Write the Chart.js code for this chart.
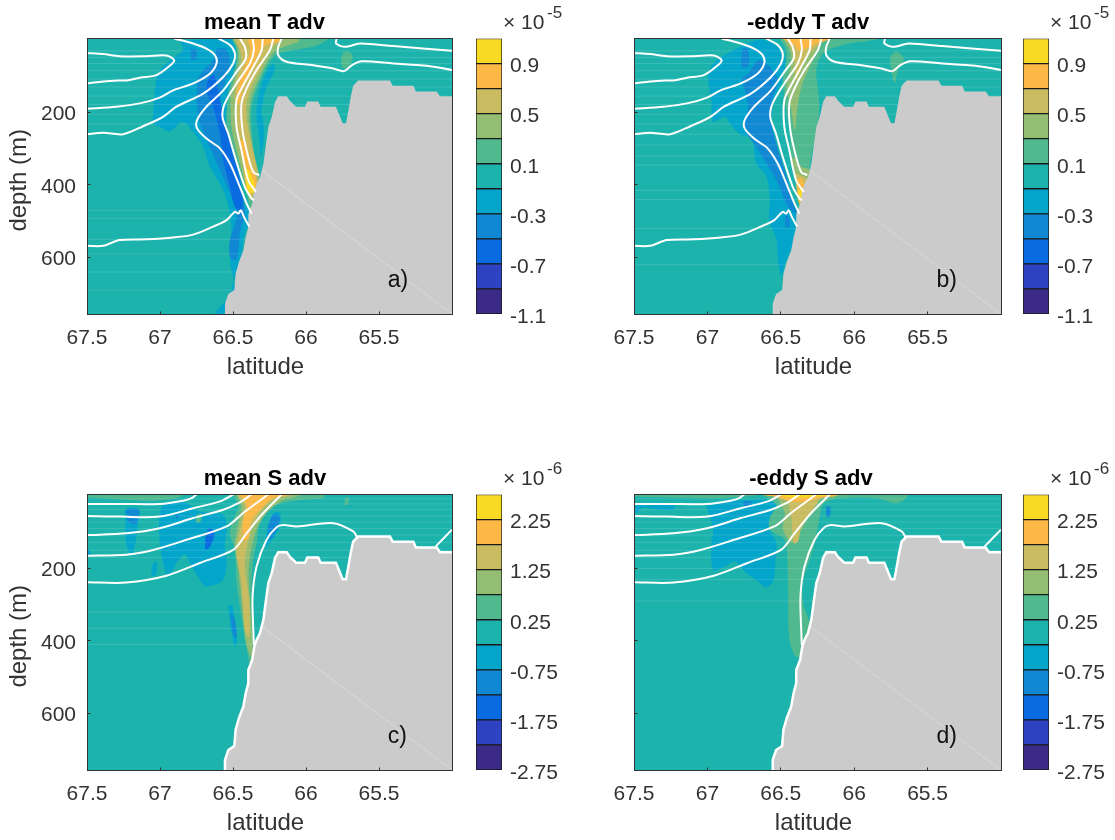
<!DOCTYPE html>
<html>
<head>
<meta charset="utf-8">
<style>
html, body { margin: 0; padding: 0; background: #fff; overflow: hidden; }
canvas { position: absolute; }
</style>
<script src="https://cdn.jsdelivr.net/npm/chart.js@4/dist/chart.umd.min.js"></script>
</head>
<body>
<script>
const latTicks = [67.5, 67, 66.5, 66, 65.5];
const depthTicks = [200, 400, 600];
const tLevels = [-1.1, -0.9, -0.7, -0.5, -0.3, -0.1, 0.1, 0.3, 0.5, 0.7, 0.9, 1.1];
const sLevels = [-2.75, -2.25, -1.75, -1.25, -0.75, -0.25, 0.25, 0.75, 1.25, 1.75, 2.25, 2.75];
const tTicks = [-1.1, -0.7, -0.3, 0.1, 0.5, 0.9];
const sTicks = [-2.75, -1.75, -0.75, 0.25, 1.25, 2.25];
const levelColors = ['#3b2a86', '#2e43c1', '#0a6ae0', '#1188d2', '#04a5ca', '#1db3ad', '#50b98e', '#92bd72', '#c8bb60', '#fbb845', '#f8d923'];

// sea floor, lat / depth
const terrain = [[66.555,760],[66.555,728],[66.532,701],[66.491,690],[66.482,645],[66.459,612],[66.429,581],[66.413,544],[66.395,516],[66.395,480],[66.368,452],[66.354,416],[66.338,397],[66.315,378],[66.292,342],[66.274,287],[66.258,240],[66.235,213],[66.212,171],[66.19,155],[66.132,155],[66.11,168],[66.068,184],[66.007,184],[65.991,170],[65.916,170],[65.9,184],[65.795,184],[65.749,230],[65.726,230],[65.71,195],[65.694,158],[65.677,126],[65.643,112],[65.425,112],[65.406,126],[65.265,126],[65.247,142],[65.105,142],[65.082,155],[65.0,155]];
const floorSeam = [[66.304,359],[65.0,756]];

// white contours
const tContours = [
  [[67.5,36],[67.39,39],[67.276,45],[67.093,45],[66.956,43],[66.903,56],[66.933,71],[67.024,97],[67.139,104],[67.219,111],[67.345,113],[67.5,120]],
  [[66.903,-4],[66.773,10],[66.682,24],[66.624,42],[66.613,65],[66.659,93],[66.773,120],[66.91,139],[67.002,159],[67.139,175],[67.299,184],[67.5,190]],
  [[66.601,-4],[66.521,14],[66.487,37],[66.499,65],[66.567,102],[66.704,148],[66.887,184],[66.979,212],[67.116,238],[67.253,260],[67.39,256],[67.5,260]],
  [[66.453,-4],[66.419,19],[66.412,51],[66.476,88],[66.567,139],[66.682,184],[66.746,221],[66.746,244],[66.682,272],[66.59,299],[66.521,341],[66.453,405],[66.407,451],[66.373,479]],
  [[66.366,-4],[66.357,28],[66.384,65],[66.476,120],[66.556,175],[66.572,212],[66.533,258],[66.487,322],[66.419,405],[66.373,437],[66.357,442]],
  [[66.297,-4],[66.304,28],[66.361,74],[66.43,125],[66.476,166],[66.476,240],[66.442,304],[66.396,387],[66.343,419]],
  [[66.224,-4],[66.247,28],[66.339,83],[66.407,134],[66.442,175],[66.435,249],[66.396,322],[66.361,364],[66.32,373]],
  [[67.5,568],[67.39,568],[67.276,552],[67.093,550],[66.91,545],[66.773,537],[66.636,515],[66.544,497],[66.487,474],[66.464,479],[66.446,470],[66.425,488],[66.389,515]],
  [[65.79,-4],[65.794,10],[65.733,19],[65.63,10],[65.401,17],[65.0,30]],
  [[66.167,-4],[66.19,19],[66.19,42],[66.133,60],[65.95,70],[65.813,79],[65.74,86],[65.687,70],[65.618,59],[65.401,65],[65.173,71],[65.0,83]]
];
const sContours = [
  [[67.5,22],[67.276,22],[67.002,22],[66.842,13],[66.784,6],[66.75,-4]],
  [[67.5,55],[67.276,57],[67.002,57],[66.773,34],[66.59,15],[66.499,-4]],
  [[67.5,108],[67.23,103],[67.002,89],[66.773,61],[66.567,38],[66.464,20],[66.373,-4]],
  [[67.5,165],[67.23,162],[67.047,149],[66.819,121],[66.544,84],[66.43,47],[66.259,-4]],
  [[67.5,238],[67.23,239],[66.956,220],[66.727,185],[66.499,149],[66.407,103],[66.293,47],[66.167,-4]],
  [[66.357,411],[66.361,369],[66.366,277],[66.339,195],[66.27,121],[66.201,86],[66.156,80],[66.064,84],[65.813,75],[65.676,98],[65.648,116]],
  [[65.111,139],[65.0,93]]
];

// filled bands: [level index, outline]
const bandsA = [
  [4, [[66.864,1],[66.842,28],[66.933,56],[67.013,93],[67.036,148],[67.047,203],[67.047,230],[66.979,244],[66.933,253],[66.842,226],[66.773,254],[66.704,295],[66.659,350],[66.567,414],[66.521,479],[66.51,534],[66.521,607],[66.487,681],[66.487,699],[66.567,727],[66.624,756],[66.563,756],[66.494,663],[66.441,589],[66.419,534],[66.373,488],[66.442,442],[66.476,387],[66.51,322],[66.556,258],[66.544,194],[66.533,148],[66.499,102],[66.476,47],[66.51,-4]]],
  [4, [[66.224,65],[66.27,88],[66.327,157],[66.339,212],[66.316,286],[66.309,322],[66.293,286],[66.288,240],[66.304,194],[66.27,129],[66.213,83]]],
  [3, [[66.613,24],[66.549,24],[66.521,65],[66.556,120],[66.59,166],[66.567,230],[66.521,295],[66.464,359],[66.43,433],[66.419,479],[66.453,534],[66.476,607],[66.521,598],[66.521,552],[66.476,488],[66.51,433],[66.59,359],[66.659,295],[66.727,230],[66.75,157],[66.727,97],[66.636,56]]],
  [3, [[66.789,26],[66.755,26],[66.75,51],[66.784,56]]],
  [2, [[66.67,106],[66.631,97],[66.601,139],[66.567,208],[66.521,276],[66.476,350],[66.435,433],[66.442,470],[66.487,460],[66.521,405],[66.567,332],[66.59,258],[66.636,184],[66.682,139]]],
  [6, [[66.51,-4],[66.476,28],[66.48,65],[66.51,111],[66.533,148],[66.544,203],[66.533,258],[66.487,322],[66.442,377],[66.396,442],[66.373,488],[66.32,377],[66.35,322],[66.366,276],[66.373,240],[66.373,184],[66.339,139],[66.281,83],[66.224,47],[66.179,37],[66.087,28],[65.95,19],[65.858,1],[65.858,-4]]],
  [6, [[65.744,33],[65.699,33],[65.68,51],[65.71,74],[65.744,79],[65.76,56]]],
  [7, [[66.499,-4],[66.464,28],[66.464,65],[66.499,120],[66.517,166],[66.51,240],[66.476,304],[66.43,377],[66.384,442],[66.35,433],[66.32,377],[66.35,332],[66.373,276],[66.391,212],[66.373,157],[66.316,102],[66.259,56],[66.201,28],[66.053,5],[66.053,-4]]],
  [8, [[66.487,-4],[66.453,28],[66.442,60],[66.476,111],[66.487,166],[66.476,240],[66.453,304],[66.407,387],[66.373,433],[66.339,410],[66.339,350],[66.368,295],[66.402,230],[66.407,175],[66.373,129],[66.304,74],[66.247,28],[66.167,-4]]],
  [9, [[66.396,5],[66.38,28],[66.419,74],[66.464,129],[66.476,175],[66.458,177],[66.43,131],[66.361,70],[66.293,19],[66.167,1],[66.167,-4],[66.384,-4]]],
  [9, [[66.458,276],[66.43,341],[66.396,424],[66.35,415],[66.339,387],[66.38,341],[66.419,276]]],
  [10, [[66.419,368],[66.396,419],[66.361,422],[66.35,401],[66.38,368],[66.402,355]]]
];
const bandsB = [
  [4, [[66.757,14],[66.882,42],[66.961,65],[66.995,102],[66.973,166],[66.961,226],[66.882,212],[66.848,230],[66.768,263],[66.7,267],[66.666,341],[66.598,377],[66.575,442],[66.58,497],[66.53,552],[66.519,607],[66.496,653],[66.473,621],[66.394,534],[66.376,488],[66.439,460],[66.485,387],[66.53,322],[66.564,249],[66.553,175],[66.485,102],[66.473,47],[66.553,10],[66.644,-1]]],
  [3, [[66.768,106],[66.723,93],[66.655,56],[66.598,65],[66.519,111],[66.553,157],[66.569,212],[66.53,286],[66.473,359],[66.416,442],[66.394,479],[66.451,460],[66.53,387],[66.598,341],[66.666,295],[66.746,244],[66.723,184]]],
  [3, [[66.762,24],[66.723,24],[66.723,74],[66.768,74]]],
  [3, [[66.473,488],[66.451,483],[66.439,515],[66.466,517]]],
  [6, [[66.507,-4],[66.462,28],[66.462,65],[66.485,102],[66.473,166],[66.439,258],[66.428,332],[66.405,377],[66.371,451],[66.353,479],[66.308,359],[66.28,295],[66.246,240],[66.24,166],[66.258,83],[66.212,37],[66.076,14],[65.849,-1],[65.849,-4]]],
  [6, [[65.713,30],[65.661,51],[65.702,83],[65.724,120],[65.747,83],[65.754,47]]],
  [7, [[66.485,-4],[66.439,28],[66.428,65],[66.462,129],[66.428,194],[66.405,249],[66.389,194],[66.36,129],[66.292,65],[66.224,10],[66.167,-4]]],
  [7, [[66.428,327],[66.394,387],[66.371,460],[66.337,415],[66.303,359],[66.36,350],[66.394,327]]],
  [8, [[66.462,-4],[66.421,33],[66.405,65],[66.394,111],[66.326,47],[66.28,28],[66.212,-4]]],
  [8, [[66.405,368],[66.376,451],[66.344,410],[66.326,382],[66.371,373]]],
  [9, [[66.496,-4],[66.405,14],[66.382,28],[66.326,24],[66.258,10],[66.167,-2],[66.167,-4]]],
  [9, [[66.394,387],[66.371,451],[66.337,410],[66.36,382]]],
  [10, [[66.382,419],[66.366,442],[66.348,415],[66.36,407]]]
];
const bandsC = [
  [4, [[67.242,38],[67.196,31],[67.139,38],[67.15,75],[67.173,139],[67.196,162],[67.23,135],[67.237,84]]],
  [4, [[67.006,57],[66.979,25],[66.842,15],[66.727,43],[66.567,52],[66.544,84],[66.556,139],[66.544,176],[66.567,231],[66.682,250],[66.727,231],[66.796,185],[66.83,160],[66.887,185],[66.944,222],[66.979,185],[67.006,112]]],
  [4, [[67.5,141],[67.47,162],[67.5,167]]],
  [4, [[67.047,185],[67.02,181],[67.029,218],[67.059,218]]],
  [4, [[66.533,300],[66.503,305],[66.471,397],[66.487,415],[66.517,360]]],
  [4, [[66.27,93],[66.224,47],[66.179,47],[66.179,84],[66.247,130],[66.277,139]]],
  [3, [[67.235,38],[67.146,38],[67.166,77],[67.219,70]]],
  [3, [[66.693,103],[66.659,86],[66.624,103],[66.647,135],[66.682,149]]],
  [3, [[66.259,82],[66.224,52],[66.183,57],[66.19,82],[66.247,121]]],
  [3, [[66.517,323],[66.487,342],[66.476,392],[66.499,383]]],
  [3, [[66.899,52],[66.876,52],[66.883,64]]],
  [2, [[66.688,114],[66.654,91],[66.629,103],[66.659,139],[66.688,147]]],
  [6, [[66.499,-4],[66.464,29],[66.499,66],[66.521,103],[66.487,149],[66.476,241],[66.442,333],[66.396,443],[66.38,489],[66.366,443],[66.35,415],[66.361,333],[66.373,259],[66.361,176],[66.339,130],[66.316,75],[66.224,29],[66.041,11],[65.881,6],[65.87,-4]]],
  [6, [[67.5,-4],[67.5,3],[67.276,9],[67.07,13],[66.887,6],[66.842,-4]]],
  [6, [[65.733,6],[65.703,4],[65.717,25],[65.733,25]]],
  [6, [[66.75,52],[66.711,49],[66.727,73],[66.755,70]]],
  [7, [[66.476,-4],[66.442,29],[66.464,75],[66.487,139],[66.464,204],[66.435,314],[66.412,406],[66.373,443],[66.366,415],[66.38,314],[66.393,222],[66.38,158],[66.339,93],[66.27,47],[66.156,11],[66.064,2],[66.041,-4]]],
  [8, [[66.476,-4],[66.419,29],[66.442,75],[66.476,149],[66.442,241],[66.419,369],[66.389,392],[66.389,287],[66.419,185],[66.373,93],[66.316,47],[66.224,11],[66.087,-4]]],
  [9, [[66.453,-4],[66.407,25],[66.43,66],[66.425,121],[66.396,116],[66.373,66],[66.293,29],[66.224,6],[66.11,-4]]]
];
const bandsD = [
  [4, [[67.007,25],[66.87,15],[66.689,11],[66.587,11],[66.53,25],[66.575,61],[66.575,93],[66.53,130],[66.537,185],[66.553,236],[66.598,252],[66.655,236],[66.734,213],[66.814,181],[66.882,195],[66.961,204],[66.973,130],[66.961,93]]],
  [4, [[67.5,23],[67.222,25],[67.234,38],[67.37,36],[67.439,33],[67.496,50],[67.5,50]]],
  [3, [[66.757,15],[66.7,15],[66.712,29],[66.746,29]]],
  [3, [[66.19,29],[66.162,31],[66.167,57],[66.19,55]]],
  [6, [[66.632,-4],[66.53,25],[66.575,61],[66.575,93],[66.473,121],[66.451,241],[66.444,388],[66.405,441],[66.366,443],[66.344,415],[66.303,351],[66.344,305],[66.353,241],[66.303,176],[66.269,130],[66.239,66],[66.208,20],[66.076,6],[65.849,6],[65.713,20],[65.645,6],[65.633,-4]]],
  [6, [[67.5,-4],[67.5,1],[66.984,6],[66.757,2],[66.632,-4]]],
  [7, [[66.598,-4],[66.53,4],[66.473,48],[66.485,93],[66.416,130],[66.36,93],[66.28,38],[66.212,6],[66.031,-4]]],
  [8, [[66.451,11],[66.428,61],[66.412,130],[66.382,125],[66.36,84],[66.303,47],[66.246,11]]],
  [9, [[66.644,-4],[66.53,3],[66.439,15],[66.326,15],[66.235,6],[66.121,0],[66.121,-4]]],
  [10, [[66.553,-4],[66.439,4],[66.326,4],[66.212,0],[66.144,-4]]]
];

// faint horizontal grid seams in the fill
const seamsA = [30,48,65,85,108,130,155,178,205,232,470,492,550,590,640,690];
const seamsB = [30,48,65,85,108,130,155,178,205,232,260,290,320,345,415,440,520,620];
const seamsC = [8,22,38,55,72,90,108,128,150,170,320,365,410];
const seamsD = [8,22,38,55,72,90,108,128,150,170,200,230,290];

const fontName = '"Liberation Sans", Arial, sans-serif';
const textGray = '#333333';

function pts(list) {
  return list.map(p => ({x: p[0], y: p[1]}));
}

function polygon(list, color, tension) {
  return {data: pts(list.concat([list[0]])), showLine: true, fill: 'shape', backgroundColor: color,
    borderWidth: 0, pointRadius: 0, tension: tension};
}

function whiteLine(list, width, tension) {
  return {data: pts(list), showLine: true, fill: false, borderColor: '#ffffff', borderWidth: width,
    pointRadius: 0, tension: tension};
}

const frame = {
  id: 'frame',
  afterDraw(chart) {
    const ctx = chart.ctx, a = chart.chartArea;
    const l = Math.floor(a.left) + 0.5, r = Math.floor(a.right) + 0.5;
    const t = Math.floor(a.top) + 0.5, b = Math.floor(a.bottom) + 0.5;
    ctx.save();
    ctx.strokeStyle = '#333333';
    ctx.lineWidth = 1;
    ctx.strokeRect(l, t, r - l, b - t);
    ctx.beginPath();
    chart.scales.x.ticks.forEach(tk => {
      const x = Math.floor(chart.scales.x.getPixelForValue(tk.value)) + 0.5;
      ctx.moveTo(x, b); ctx.lineTo(x, b - 3);
    });
    chart.scales.y.ticks.forEach(tk => {
      const y = Math.floor(chart.scales.y.getPixelForValue(tk.value)) + 0.5;
      ctx.moveTo(l, y); ctx.lineTo(l + 3, y);
    });
    ctx.stroke();
    ctx.restore();
  }
};

function makePanel(cfg) {
  const cv = document.createElement('canvas');
  cv.width = cfg.width; cv.height = 400;
  cv.style.left = cfg.left + 'px'; cv.style.top = cfg.top + 'px';
  document.body.appendChild(cv);

  const ds = [];
  ds.push(polygon([[67.5,-4],[65,-4],[65,756],[67.5,756]], levelColors[5], 0));
  cfg.bands.forEach(b => ds.push(polygon(b[1], levelColors[b[0]], 0.3)));
  cfg.seams.forEach(d => ds.push({data: pts([[67.5,d],[65,d]]), showLine: true, fill: false,
    borderColor: 'rgba(255,255,255,0.13)', borderWidth: 1, pointRadius: 0}));
  ds.push(polygon(terrain.concat([[65,760]]), '#cbcbcb', 0));
  ds.push({data: pts(floorSeam), showLine: true, fill: false, borderColor: 'rgba(255,255,255,0.3)',
    borderWidth: 1, pointRadius: 0});
  cfg.contours.forEach(c => ds.push(whiteLine(c, 2, 0.3)));
  if (cfg.floorLine) ds.push(whiteLine(terrain, 2.5, 0));
  ds.forEach((d, i) => { d.order = -i; });

  const labels = {
    id: 'labels',
    afterLayout(chart) {
      chart.titleBlock.left = cfg.titleAt - 150;
      chart.titleBlock.right = cfg.titleAt + 150;
    },
    afterDraw(chart) {
      const ctx = chart.ctx, a = chart.chartArea;
      ctx.save();
      ctx.textBaseline = 'middle';
      ctx.fillStyle = '#111111';
      ctx.font = '23px ' + fontName;
      ctx.fillText(cfg.tag, chart.scales.x.getPixelForValue(65.44), chart.scales.y.getPixelForValue(663));
      ctx.fillStyle = textGray;
      ctx.font = '24px ' + fontName;
      ctx.textAlign = 'center';
      ctx.fillText('latitude', (a.left + a.right) / 2 - 4, 367);
      if (cfg.yLabels) {
        ctx.translate(19, (a.top + a.bottom) / 2 + 4);
        ctx.rotate(-Math.PI / 2);
        ctx.fillText('depth (m)', 0, 0);
      }
      ctx.restore();
    }
  };

  new Chart(cv, {
    type: 'scatter',
    data: {datasets: ds},
    plugins: [frame, labels],
    options: {
      responsive: false,
      animation: false,
      layout: {padding: {right: cfg.width - 87 - cfg.plotW}},
      plugins: {
        legend: {display: false},
        tooltip: {enabled: false},
        title: {display: true, text: cfg.title, color: '#000000',
          font: {family: fontName, size: 22, weight: 'bold', lineHeight: 1},
          padding: {top: 12, bottom: 4.5}}
      },
      scales: {
        x: {
          type: 'linear', reverse: true, min: 65, max: 67.5,
          grid: {display: false, drawTicks: false}, border: {display: false},
          afterBuildTicks(s) { s.ticks = latTicks.map(v => ({value: v})); },
          afterFit(s) { s.height = 86; },
          ticks: {color: textGray, padding: 12, maxRotation: 0, autoSkip: false,
            font: {family: fontName, size: 21}, callback: v => String(v)}
        },
        y: {
          type: 'linear', reverse: true, min: -4, max: 756,
          grid: {display: false, drawTicks: false}, border: {display: false},
          afterBuildTicks(s) { s.ticks = depthTicks.map(v => ({value: v})); },
          afterFit(s) { s.width = 87; },
          ticks: {display: cfg.yLabels, color: textGray, padding: 11, autoSkip: false, labelOffset: 2,
            font: {family: fontName, size: 21}, callback: v => String(v)}
        }
      }
    }
  });
}

function makeColorbar(cfg) {
  const cv = document.createElement('canvas');
  cv.width = cfg.width; cv.height = 400;
  cv.style.left = cfg.left + 'px'; cv.style.top = cfg.top + 'px';
  document.body.appendChild(cv);

  const ds = levelColors.map((c, i) => ({
    data: [[cfg.levels[i], cfg.levels[i + 1]]],
    backgroundColor: c, borderColor: '#1a1a1a', borderWidth: 1, borderSkipped: false,
    barPercentage: 1, categoryPercentage: 1, grouped: false
  }));

  const exponent = {
    id: 'exponent',
    afterDraw(chart) {
      const ctx = chart.ctx, a = chart.chartArea;
      ctx.save();
      ctx.textBaseline = 'middle';
      ctx.fillStyle = textGray;
      ctx.font = '21px ' + fontName;
      ctx.fillText('\u00d7', a.right + 1, 23);
      ctx.fillText('10', a.right + 19, 23);
      ctx.font = '17px ' + fontName;
      ctx.fillText(cfg.power, a.right + 45, 13);
      ctx.restore();
    }
  };

  new Chart(cv, {
    type: 'bar',
    data: {labels: [''], datasets: ds},
    plugins: [exponent],
    options: {
      responsive: false,
      animation: false,
      layout: {padding: {left: 6, top: 38.5, bottom: 86}},
      plugins: {legend: {display: false}, tooltip: {enabled: false}},
      scales: {
        x: {display: false},
        y: {
          position: 'right', min: cfg.levels[0], max: cfg.levels[cfg.levels.length - 1],
          grid: {display: false, drawTicks: false}, border: {display: false},
          afterBuildTicks(s) { s.ticks = cfg.ticks.map(v => ({value: v})); },
          afterFit(s) { s.width = cfg.width - 32; },
          ticks: {color: textGray, padding: 8, autoSkip: false, labelOffset: 3,
            font: {family: fontName, size: 21}, callback: v => String(v)}
        }
      }
    }
  });
}

makePanel({title: 'mean T adv', tag: 'a)', left: 0, top: 0, width: 470, plotW: 365, titleAt: 264.5, bands: bandsA, seams: seamsA, contours: tContours, yLabels: true, floorLine: false});
makePanel({title: '-eddy T adv', tag: 'b)', left: 547, top: 0, width: 472, plotW: 367, titleAt: 261, bands: bandsB, seams: seamsB, contours: tContours, yLabels: false, floorLine: false});
makePanel({title: 'mean S adv', tag: 'c)', left: 0, top: 456, width: 470, plotW: 365, titleAt: 265, bands: bandsC, seams: seamsC, contours: sContours, yLabels: true, floorLine: true});
makePanel({title: '-eddy S adv', tag: 'd)', left: 547, top: 456, width: 472, plotW: 367, titleAt: 264, bands: bandsD, seams: seamsD, contours: sContours, yLabels: false, floorLine: true});

makeColorbar({left: 470, top: 0, width: 100, levels: tLevels, ticks: tTicks, power: '-5'});
makeColorbar({left: 1017, top: 0, width: 98, levels: tLevels, ticks: tTicks, power: '-5'});
makeColorbar({left: 470, top: 456, width: 100, levels: sLevels, ticks: sTicks, power: '-6'});
makeColorbar({left: 1017, top: 456, width: 98, levels: sLevels, ticks: sTicks, power: '-6'});
</script>
</body>
</html>
